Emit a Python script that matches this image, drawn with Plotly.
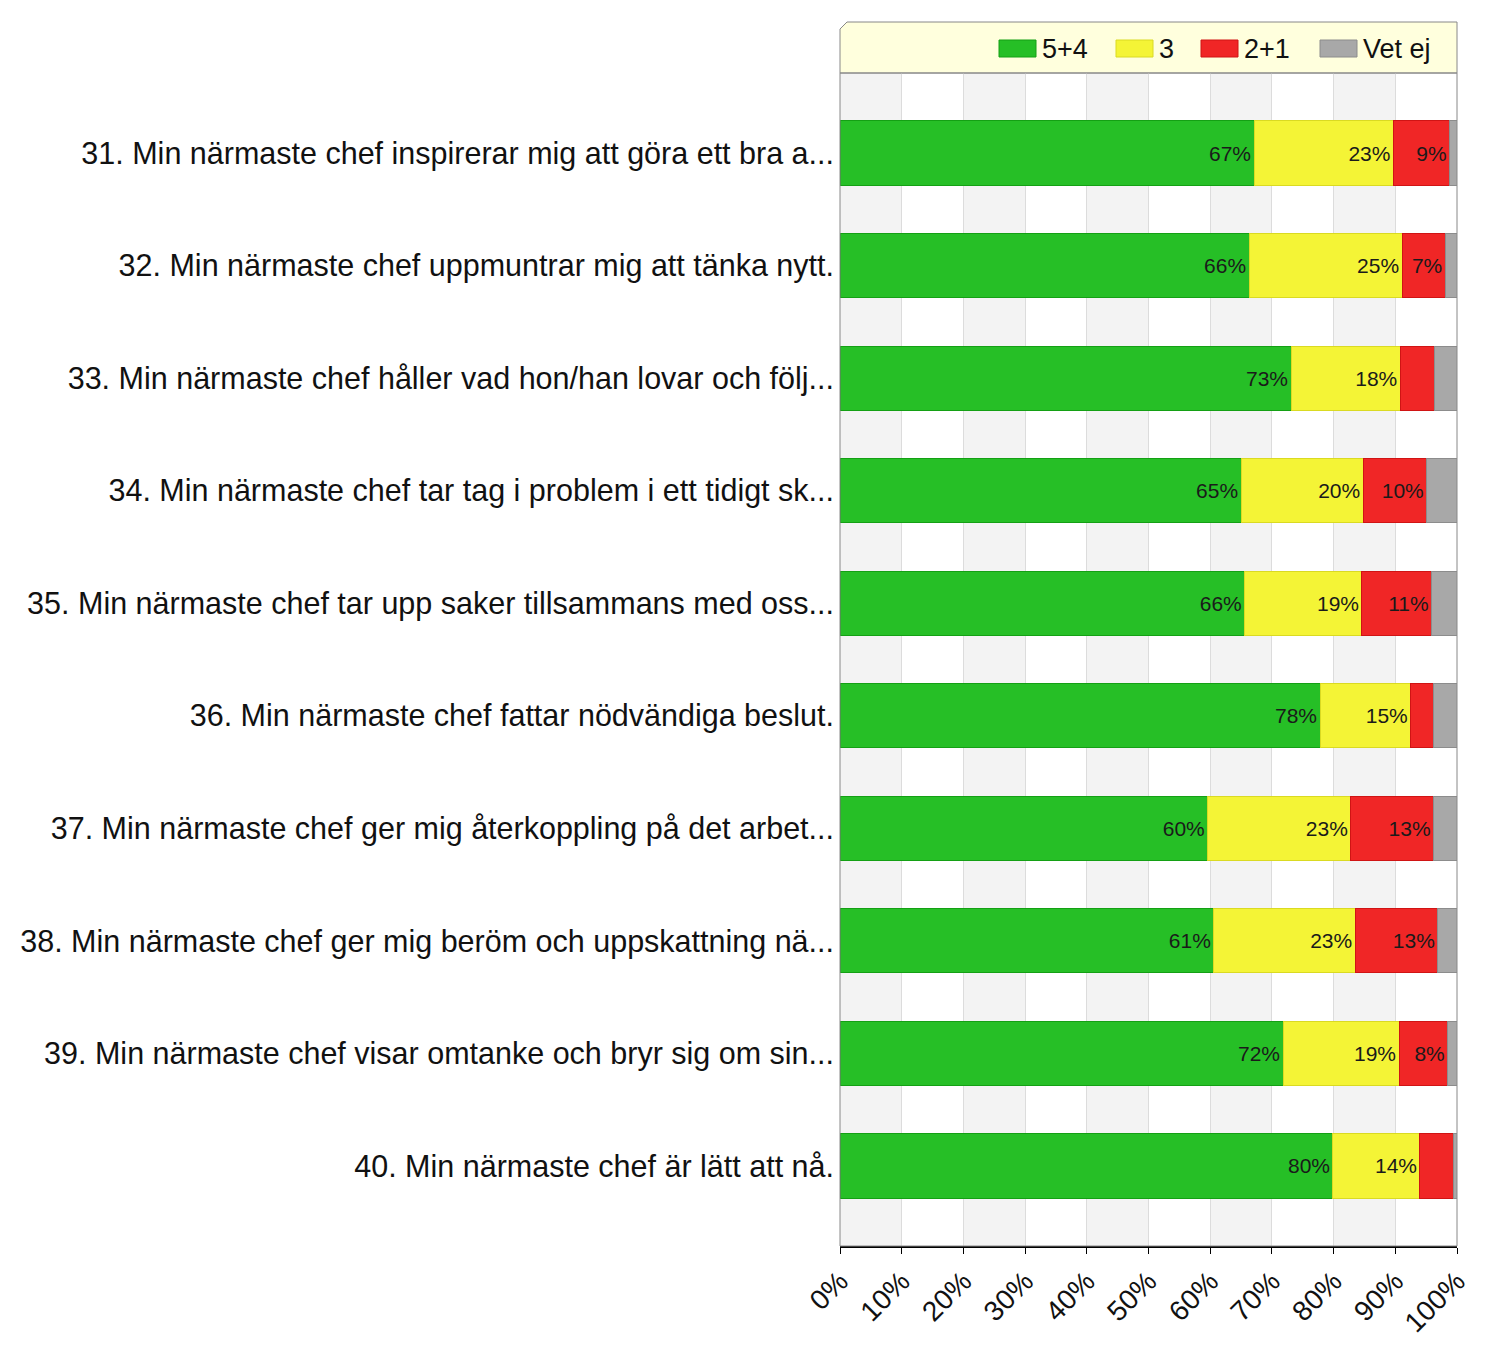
import plotly.graph_objects as go

categories = [
    "31. Min närmaste chef inspirerar mig att göra ett bra a...",
    "32. Min närmaste chef uppmuntrar mig att tänka nytt.",
    "33. Min närmaste chef håller vad hon/han lovar och följ...",
    "34. Min närmaste chef tar tag i problem i ett tidigt sk...",
    "35. Min närmaste chef tar upp saker tillsammans med oss...",
    "36. Min närmaste chef fattar nödvändiga beslut.",
    "37. Min närmaste chef ger mig återkoppling på det arbet...",
    "38. Min närmaste chef ger mig beröm och uppskattning nä...",
    "39. Min närmaste chef visar omtanke och bryr sig om sin...",
    "40. Min närmaste chef är lätt att nå.",
]
s54 = [67.1, 66.3, 73.1, 65.0, 65.6, 77.8, 59.6, 60.6, 71.8, 79.9]
s3 = [22.6, 24.8, 17.7, 19.8, 19.0, 14.7, 23.2, 22.9, 18.8, 14.1]
s21 = [9.1, 7.0, 5.6, 10.3, 11.3, 3.7, 13.4, 13.4, 7.9, 5.5]
vet = [1.2, 1.9, 3.6, 4.9, 4.1, 3.8, 3.8, 3.1, 1.5, 0.5]
series_names = ["5+4", "3", "2+1", "Vet ej"]
x_ticks = [0, 10, 20, 30, 40, 50, 60, 70, 80, 90, 100]
x_ticklabels = [f"{t}%" for t in x_ticks]

colors = ["#26bf26", "#f4f436", "#f02626", "#a8a8a8"]
edges = ["#14a014", "#dada22", "#d01414", "#8c8c8c"]

fig = go.Figure()
for name, vals, col, ed in zip(series_names, [s54, s3, s21, vet], colors, edges):
    texts = [f"{round(v)}%" if (v >= 6.5 and name != "Vet ej") else "" for v in vals]
    fig.add_trace(go.Bar(
        y=categories, x=vals, name=name, orientation="h",
        marker=dict(color=col, line=dict(color=ed, width=1)),
        text=texts, textposition="inside", insidetextanchor="end",
        textfont=dict(family="Liberation Sans, Arial", size=21, color="#1a1a1a"),
        textangle=0, width=0.57, cliponaxis=False,
        hoverinfo="x+name", showlegend=False,
    ))

PW, PH = 617.0, 1173.0


def px(xp):
    return (xp - 840) / PW


def py(yp):
    return 1 + (73 - yp) / PH


shapes = []
# alternating stripes
for i in range(0, 100, 20):
    shapes.append(dict(type="rect", xref="x", yref="paper", x0=i, x1=i + 10, y0=0, y1=1,
                       fillcolor="#f3f3f3", line=dict(width=0), layer="below"))
# legend box with clipped corner
shapes.append(dict(type="path", xref="paper", yref="paper",
                   path=f"M 0 1 L 0 {py(29)} L {px(847)} {py(22)} L 1 {py(22)} L 1 1 Z",
                   fillcolor="#ffffdd", line=dict(color="#888888", width=1), layer="below"))
# plot border
shapes.append(dict(type="rect", xref="paper", yref="paper", x0=0, x1=1, y0=0, y1=1,
                   line=dict(color="#888888", width=1), fillcolor="rgba(0,0,0,0)", layer="above"))

annotations = []
legend_pos = [999, 1116, 1201, 1320]
for name, col, ed, lx in zip(series_names, colors, edges, legend_pos):
    shapes.append(dict(type="rect", xref="paper", yref="paper",
                       x0=px(lx), x1=px(lx + 37), y0=py(57), y1=py(40),
                       fillcolor=col, line=dict(color=ed, width=1), layer="above"))
    annotations.append(dict(xref="paper", yref="paper", x=px(lx + 41), y=py(48.5),
                            xanchor="left", yanchor="middle", text=name, showarrow=False,
                            font=dict(size=27, color="#111111",
                                      family="Liberation Sans, Arial")))

fig.update_layout(
    width=1492, height=1338,
    margin=dict(l=832, r=43, t=65, b=100),
    barmode="stack",
    paper_bgcolor="white", plot_bgcolor="white",
    font=dict(family="Liberation Sans, Arial", color="#111111"),
    shapes=shapes, annotations=annotations,
    showlegend=False,
    xaxis=dict(range=[0, 100], tickvals=x_ticks, ticktext=x_ticklabels, tickangle=-45,
               tickfont=dict(size=28, color="#111111"), showgrid=True, gridcolor="#dcdcdc",
               gridwidth=1, zeroline=False, showline=True, linecolor="#000000", linewidth=1.5,
               ticks="outside", ticklen=6, tickcolor="#000000", mirror=False,
               automargin=False),
    yaxis=dict(categoryorder="array", categoryarray=categories, range=[9.711, -0.711],
               tickfont=dict(size=30.5, color="#111111"), showgrid=False, zeroline=False,
               ticks="", ticklabelstandoff=5, showline=False, automargin=False),
)

fig.write_html("out.html")
